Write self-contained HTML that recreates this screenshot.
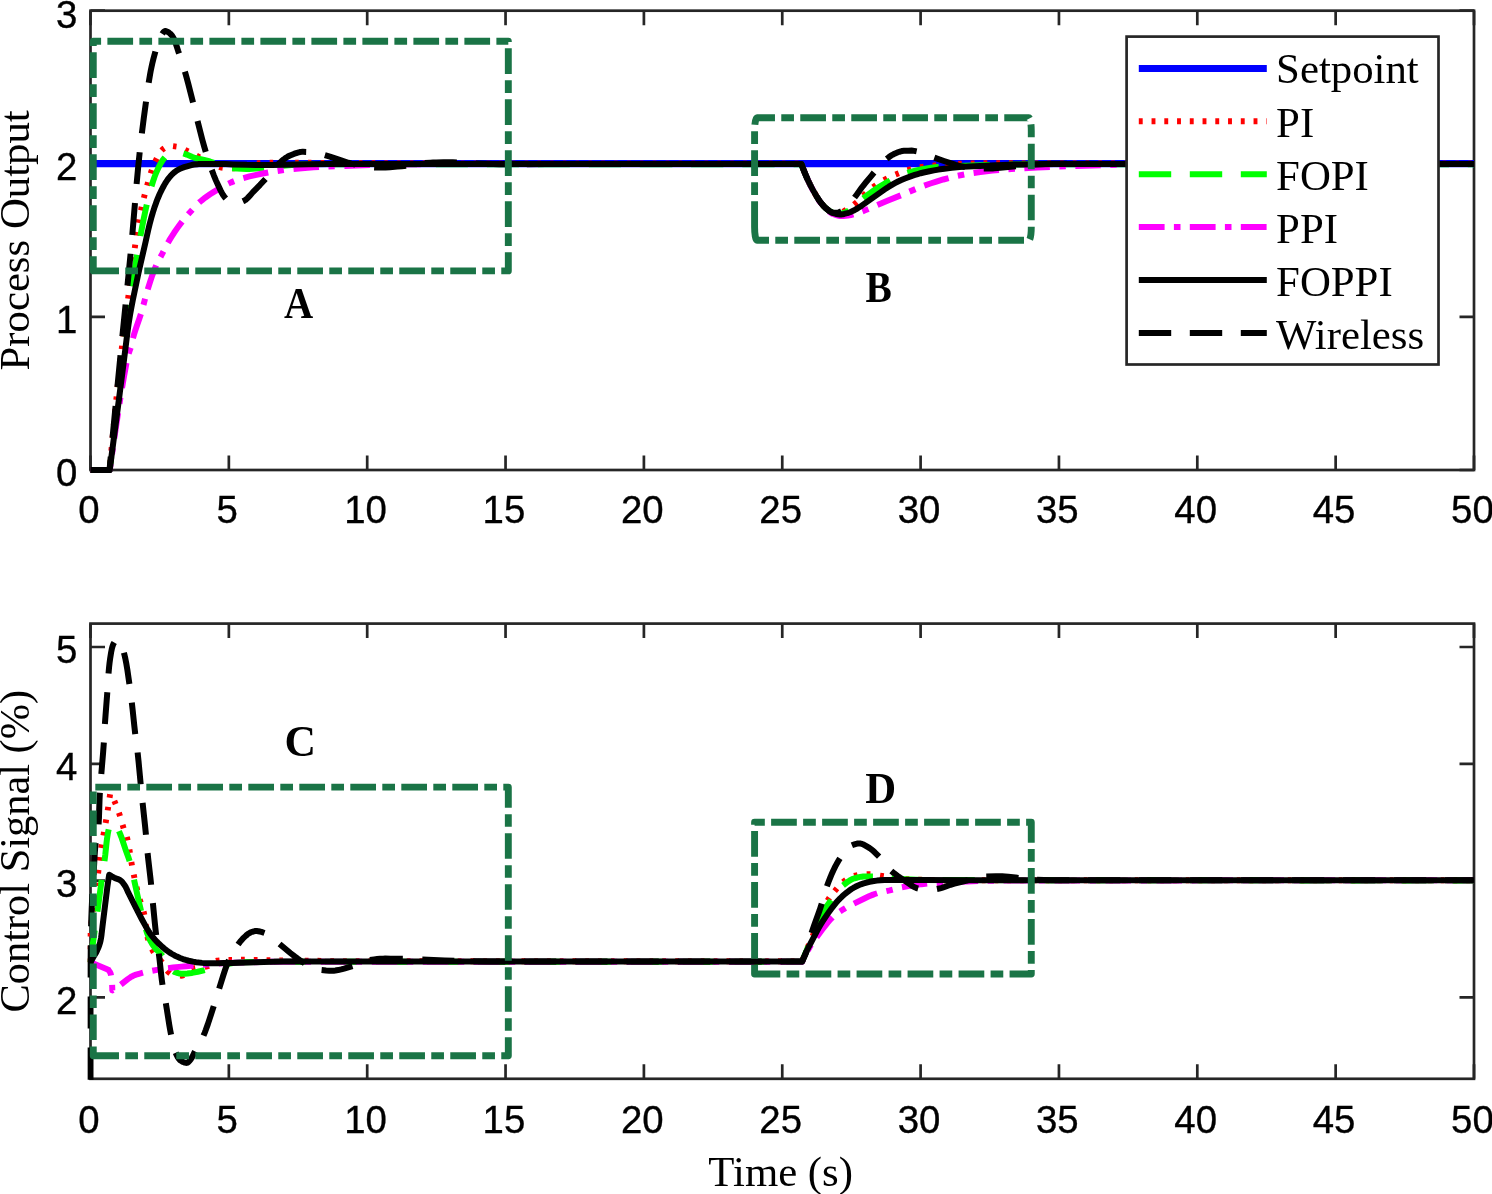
<!DOCTYPE html>
<html lang="en"><head><meta charset="utf-8"><title>Process output and control signal</title>
<style>html,body{margin:0;padding:0;background:#fff}svg{display:block;will-change:transform}</style></head>
<body>
<svg width="1492" height="1194" viewBox="0 0 1492 1194">
<rect width="1492" height="1194" fill="#fff"/>
<rect x="90.5" y="10.7" width="1383.5" height="459.3" fill="none" stroke="#262626" stroke-width="2.7"/>
<path d="M90.50,470.0 v-14.5 M90.50,10.7 v14.5 M228.85,470.0 v-14.5 M228.85,10.7 v14.5 M367.20,470.0 v-14.5 M367.20,10.7 v14.5 M505.55,470.0 v-14.5 M505.55,10.7 v14.5 M643.90,470.0 v-14.5 M643.90,10.7 v14.5 M782.25,470.0 v-14.5 M782.25,10.7 v14.5 M920.60,470.0 v-14.5 M920.60,10.7 v14.5 M1058.95,470.0 v-14.5 M1058.95,10.7 v14.5 M1197.30,470.0 v-14.5 M1197.30,10.7 v14.5 M1335.65,470.0 v-14.5 M1335.65,10.7 v14.5 M1474.00,470.0 v-14.5 M1474.00,10.7 v14.5 M90.5,470.00 h14.5 M1474.0,470.00 h-14.5 M90.5,316.85 h14.5 M1474.0,316.85 h-14.5 M90.5,163.70 h14.5 M1474.0,163.70 h-14.5 M90.5,10.55 h14.5 M1474.0,10.55 h-14.5 " stroke="#262626" stroke-width="2.7" fill="none"/>
<rect x="90.5" y="623.6" width="1383.5" height="455.19999999999993" fill="none" stroke="#262626" stroke-width="2.7"/>
<path d="M90.50,1078.8 v-14.5 M90.50,623.6 v14.5 M228.85,1078.8 v-14.5 M228.85,623.6 v14.5 M367.20,1078.8 v-14.5 M367.20,623.6 v14.5 M505.55,1078.8 v-14.5 M505.55,623.6 v14.5 M643.90,1078.8 v-14.5 M643.90,623.6 v14.5 M782.25,1078.8 v-14.5 M782.25,623.6 v14.5 M920.60,1078.8 v-14.5 M920.60,623.6 v14.5 M1058.95,1078.8 v-14.5 M1058.95,623.6 v14.5 M1197.30,1078.8 v-14.5 M1197.30,623.6 v14.5 M1335.65,1078.8 v-14.5 M1335.65,623.6 v14.5 M1474.00,1078.8 v-14.5 M1474.00,623.6 v14.5 M90.5,997.40 h14.5 M1474.0,997.40 h-14.5 M90.5,880.60 h14.5 M1474.0,880.60 h-14.5 M90.5,763.80 h14.5 M1474.0,763.80 h-14.5 M90.5,647.00 h14.5 M1474.0,647.00 h-14.5 " stroke="#262626" stroke-width="2.7" fill="none"/>
<clipPath id="c1"><rect x="87.3" y="10.7" width="1389.9" height="462.5"/></clipPath>
<g clip-path="url(#c1)">
<line x1="90.5" y1="163.70" x2="1474.0" y2="163.70" stroke="#0000ff" stroke-width="7.2"/>
<path d="M90.50,470.00 L94.25,470.00 M103.50,470.00 L107.00,470.00 M110.19,463.38 L110.50,459.89 M111.35,450.68 L111.67,447.20 M112.54,437.99 L112.87,434.50 M113.76,425.30 L114.10,421.81 M115.00,412.61 L115.35,409.13 M116.27,399.92 L116.63,396.44 M117.57,387.24 L117.93,383.76 M118.90,374.56 L119.27,371.08 M120.27,361.88 L120.66,358.41 M121.70,349.22 L122.11,345.74 M123.21,336.56 L123.63,333.08 M124.79,323.91 L125.23,320.43 M126.41,311.26 L126.87,307.79 M128.07,298.62 L128.52,295.15 M129.73,285.98 L130.19,282.51 M131.43,273.34 L131.90,269.87 M133.14,260.71 L133.60,257.24 M134.78,248.07 L135.23,244.59 M136.49,235.43 L137.02,231.97 M138.56,222.85 L139.19,219.41 M140.97,210.33 L141.70,206.91 M143.85,197.91 L144.73,194.53 M147.12,185.59 L148.04,182.21 M150.68,173.35 L151.81,170.04 M155.24,161.45 L156.80,158.32 M161.63,150.46 L162.49,149.56 L163.45,148.76 L164.28,148.20 M173.04,146.18 L176.51,146.63 M185.12,149.94 L188.29,151.42 M196.52,155.64 L199.62,157.27 M207.81,161.55 L210.97,163.07 M219.33,166.99 L220.04,167.23 L221.50,167.57 L222.74,167.74 M231.97,168.30 L233.47,168.23 L235.45,167.96 M244.44,165.81 L247.88,165.13 M256.96,163.42 L258.70,163.23 L260.45,163.11 M269.69,162.82 L273.19,162.76 M282.44,162.70 L285.94,162.70 M295.19,162.70 L298.69,162.70 M307.94,162.73 L311.44,162.75 M320.69,162.83 L324.19,162.86 M333.44,162.95 L336.94,162.98 M346.19,163.04 L349.69,163.07 M358.94,163.14 L362.44,163.16 M371.68,163.23 L375.18,163.26 M384.43,163.32 L387.93,163.34 M397.18,163.39 L400.68,163.40 M409.93,163.44 L413.43,163.46 M422.68,163.50 L426.18,163.51 M435.43,163.55 L438.93,163.56 M448.18,163.60 L451.68,163.61 M460.93,163.64 L464.43,163.65 M473.68,163.67 L477.18,163.68 M486.43,163.69 L489.93,163.70 M499.18,163.70 L502.68,163.70 M511.92,163.70 L515.42,163.70 M524.67,163.70 L528.17,163.70 M537.42,163.70 L540.92,163.70 M550.17,163.70 L553.67,163.70 M562.92,163.70 L566.42,163.70 M575.67,163.70 L579.17,163.70 M588.42,163.70 L591.92,163.70 M601.17,163.70 L604.92,163.70 M613.92,163.70 L617.67,163.70 M626.92,163.70 L630.67,163.70 M639.92,163.70 L643.42,163.70 M652.67,163.70 L656.42,163.70 M665.67,163.70 L669.42,163.70 M678.66,163.70 L682.16,163.70 M691.41,163.70 L695.16,163.70 M704.41,163.70 L708.16,163.70 M717.41,163.70 L720.91,163.70 M730.16,163.70 L733.91,163.70 M743.16,163.70 L746.91,163.70 M755.91,163.70 L759.66,163.70 M768.91,163.70 L772.66,163.70 M781.91,163.70 L785.41,163.70 M794.66,163.70 L798.41,163.70 M803.51,169.59 L804.89,173.08 M808.61,181.54 L810.15,184.69 M814.53,192.83 L816.40,196.08 M821.66,203.68 L822.78,205.02 L824.12,206.51 M831.33,212.26 L832.22,212.71 L833.39,213.14 L834.61,213.43 M843.18,211.78 L844.21,211.07 L846.32,209.74 M853.94,204.49 L855.70,203.10 L856.84,202.12 M863.19,195.74 L865.94,193.20 M873.00,187.22 L876.03,185.02 M883.87,180.11 L887.17,178.34 M895.57,174.48 L898.83,173.18 M907.55,170.12 L911.17,169.14 M919.97,167.25 L923.67,166.67 M932.60,165.58 L936.34,165.22 M945.31,164.53 L949.05,164.32 M958.04,163.87 L961.79,163.71 M970.78,163.44 L974.53,163.38 M983.53,163.28 L987.28,163.25 M996.28,163.20 L1000.03,163.20 M1009.03,163.24 L1012.78,163.27 M1021.78,163.36 L1025.53,163.40 M1034.53,163.48 L1038.28,163.50 M1047.28,163.51 L1051.03,163.51 M1060.03,163.52 L1063.77,163.53 M1072.77,163.54 L1076.52,163.54 M1085.52,163.55 L1089.27,163.55 M1098.27,163.56 L1102.02,163.56 M1111.02,163.57 L1114.77,163.57 M1123.77,163.58 L1127.52,163.59 M1136.52,163.59 L1140.27,163.60 M1149.27,163.60 L1153.02,163.60 M1162.02,163.61 L1165.77,163.61 M1174.77,163.62 L1178.52,163.62 M1187.52,163.63 L1191.27,163.63 M1200.27,163.64 L1204.02,163.64 M1213.02,163.64 L1216.77,163.64 M1225.77,163.65 L1229.51,163.65 M1238.51,163.65 L1242.26,163.66 M1251.26,163.66 L1255.01,163.66 M1264.01,163.67 L1267.76,163.67 M1276.76,163.67 L1280.51,163.67 M1289.51,163.67 L1293.26,163.68 M1302.26,163.68 L1306.01,163.68 M1315.01,163.68 L1318.76,163.68 M1327.76,163.68 L1331.51,163.69 M1340.51,163.69 L1344.26,163.69 M1353.26,163.69 L1357.01,163.69 M1366.01,163.69 L1369.76,163.69 M1378.76,163.69 L1382.51,163.69 M1391.51,163.70 L1395.25,163.70 M1404.50,163.70 L1408.00,163.70 M1417.25,163.70 L1420.75,163.70 M1430.00,163.70 L1433.50,163.70 M1442.75,163.70 L1446.25,163.70 M1455.50,163.70 L1459.00,163.70 M1468.25,163.70 L1471.75,163.70" fill="none" stroke="#ff0000" stroke-width="5.9" stroke-linejoin="round" stroke-linecap="butt"/>
<path d="M90.50,470.00 L109.50,470.00 L109.71,469.95 L111.23,457.04 M113.48,438.18 L117.27,406.40 M119.52,387.54 L123.35,355.77 M125.63,336.91 L127.45,322.27 L129.66,305.17 M132.20,286.34 L133.49,277.43 L134.61,270.02 L137.09,254.72 M140.41,236.01 L142.12,226.92 L143.81,218.34 L145.40,210.75 L146.76,204.66 M151.48,186.25 L152.98,181.48 L154.44,177.23 L156.06,173.03 L157.67,169.37 L159.89,164.89 L161.37,162.28 L162.31,160.81 L163.17,159.58 L163.94,158.60 L164.94,157.47 M183.42,153.46 L185.32,154.06 L186.73,154.59 L192.50,157.00 L193.90,157.52 L195.33,157.98 L198.23,158.73 L204.10,159.98 L207.02,160.67 L209.90,161.50 L213.91,162.90 M232.10,168.26 L237.34,168.60 L241.84,168.79 L246.33,168.89 L249.33,168.89 L252.33,168.79 L255.33,168.62 L264.05,167.94 M282.92,165.74 L291.39,165.01 L297.37,164.67 L301.87,164.57 L314.87,164.42 M333.87,164.31 L365.87,164.30 M384.87,164.30 L416.86,164.30 M435.86,164.30 L467.86,164.30 M486.86,164.30 L518.86,164.30 M537.86,164.30 L569.85,164.30 M588.85,164.30 L621.10,164.30 M639.85,164.30 L672.35,164.30 M691.09,164.30 L723.34,164.30 M742.34,164.30 L774.59,164.30 M793.59,164.30 L801.34,164.30 L801.46,164.48 L802.96,168.45 L804.07,171.24 L806.42,176.76 L808.94,182.20 L811.18,186.68 M821.03,202.89 L823.09,205.40 L824.10,206.51 L825.15,207.58 L826.85,209.06 L828.63,210.43 L830.08,211.41 L831.38,212.16 L832.52,212.67 L833.47,212.96 L835.68,213.40 L836.92,213.59 L838.41,213.75 L839.91,213.80 L841.39,213.61 L842.84,213.23 L844.48,212.62 L847.22,211.39 L848.74,210.53 M863.25,198.28 L866.00,196.12 L869.41,193.58 L873.08,190.98 L875.98,189.02 L879.33,186.84 L883.16,184.48 L887.05,182.21 L890.10,180.50 M907.46,172.85 L910.58,171.94 L913.48,171.17 L917.61,170.19 L920.79,169.53 L926.69,168.45 L931.13,167.73 L935.60,167.15 L938.83,166.85 M957.81,165.89 L971.80,165.42 L989.79,164.97 M1008.78,164.62 L1028.78,164.36 L1040.78,164.30 M1059.78,164.30 L1092.03,164.30 M1110.78,164.30 L1143.02,164.30 M1161.77,164.30 L1194.02,164.30 M1212.77,164.30 L1245.02,164.30 M1263.76,164.30 L1296.01,164.30 M1314.76,164.30 L1347.01,164.30 M1365.76,164.30 L1398.01,164.30 M1416.75,164.30 L1449.00,164.30 M1467.75,164.30 L1474.00,164.30" fill="none" stroke="#00ff00" stroke-width="6.0" stroke-linejoin="round" stroke-linecap="butt"/>
<path d="M90.50,470.00 L109.75,470.00 L109.83,469.80 L110.69,463.61 M112.02,454.21 L112.91,448.02 M114.31,438.37 L118.03,413.15 M119.47,403.76 L120.45,397.58 M122.04,387.96 L123.61,378.85 L126.48,362.86 M128.67,353.62 L129.69,350.53 L130.72,347.71 M132.97,338.23 L134.05,334.38 L135.01,331.27 L136.36,327.24 L139.39,318.50 L140.87,313.99 M143.48,304.86 L145.08,298.82 M147.72,289.43 L150.34,281.08 L152.25,275.40 L154.33,269.77 L156.14,265.38 M160.52,256.95 L162.32,253.66 L163.46,251.44 M167.91,242.76 L169.28,240.38 L170.97,237.60 L174.22,232.56 L177.64,227.63 L179.55,225.00 L182.10,221.60 M188.18,214.31 L192.35,209.65 M199.09,202.61 L200.40,201.46 L202.73,199.56 L205.11,197.74 L207.55,195.99 L210.03,194.31 L213.82,191.87 L220.03,188.14 M228.40,183.64 L231.12,182.38 L234.13,181.15 M243.37,178.05 L249.41,176.45 L255.25,175.08 L261.36,173.79 L268.24,172.48 M277.61,170.93 L283.81,170.10 M293.50,169.07 L307.69,167.82 L313.68,167.37 L318.92,167.04 M328.41,166.59 L334.65,166.33 M344.39,165.90 L355.88,165.43 L369.87,165.02 M379.37,164.78 L385.62,164.64 M395.37,164.46 L420.86,164.17 M430.36,164.09 L436.61,164.04 M446.36,164.01 L471.86,163.99 M481.36,163.98 L487.61,163.98 M497.36,163.97 L522.86,163.96 M532.36,163.95 L538.61,163.95 M548.36,163.94 L573.86,163.93 M583.36,163.93 L589.61,163.93 M599.36,163.93 L625.11,163.92 M634.60,163.92 L641.10,163.91 M650.85,163.91 L676.60,163.91 M686.10,163.91 L692.60,163.91 M702.35,163.90 L728.10,163.90 M737.60,163.90 L744.10,163.90 M753.85,163.90 L779.60,163.90 M789.10,163.90 L795.60,163.90 M802.74,167.61 L805.12,173.66 L807.60,179.40 L810.17,184.82 L811.53,187.49 L813.41,191.03 M818.17,199.24 L819.85,201.72 L821.96,204.52 M828.85,211.38 L830.26,212.41 L831.53,213.21 L833.09,214.00 L835.68,214.94 L837.11,215.38 L838.81,215.78 L840.05,215.95 L841.05,216.00 L843.30,215.93 L848.03,215.50 L849.26,215.32 L850.73,215.01 L853.38,214.28 M862.41,211.33 L866.37,209.80 L868.45,208.94 M877.38,205.02 L887.96,200.52 L900.72,195.40 M909.44,191.63 L915.44,189.12 M924.27,185.64 L930.41,183.49 L936.36,181.57 L943.30,179.48 L948.61,178.04 M957.84,175.81 L964.22,174.56 M973.59,173.02 L980.28,172.08 L986.47,171.28 L992.43,170.59 L998.90,169.95 M1008.37,169.18 L1014.86,168.75 M1024.34,168.21 L1037.32,167.53 L1049.81,166.95 M1059.30,166.55 L1065.79,166.30 M1075.29,165.95 L1100.77,165.16 M1110.27,164.90 L1116.77,164.76 M1126.27,164.60 L1151.76,164.30 M1161.26,164.20 L1167.76,164.15 M1177.26,164.08 L1202.76,164.00 M1212.26,163.99 L1218.76,163.98 M1228.26,163.98 L1253.76,163.96 M1263.26,163.95 L1269.76,163.95 M1279.26,163.95 L1304.76,163.93 M1314.26,163.93 L1320.76,163.93 M1330.26,163.92 L1355.75,163.92 M1365.25,163.91 L1371.75,163.91 M1381.25,163.91 L1406.75,163.90 M1416.25,163.90 L1422.75,163.90 M1432.25,163.90 L1457.75,163.90 M1467.25,163.90 L1473.75,163.90" fill="none" stroke="#ff00ff" stroke-width="6.0" stroke-linejoin="round" stroke-linecap="butt"/>
<path d="M90.50,470.00 L109.70,470.00 L119.63,394.00 L124.23,358.23 L127.37,332.87 L128.60,323.94 L130.01,315.04 L131.34,307.65 L132.78,300.27 L137.69,276.73 L139.95,266.45 L145.65,241.55 L148.25,229.81 L149.66,223.97 L151.21,218.15 L152.89,212.38 L154.25,208.08 L156.23,202.40 L157.86,198.20 L159.65,194.06 L161.90,189.40 L163.68,185.99 L165.18,183.38 L165.97,182.11 L167.66,179.63 L168.57,178.42 L170.30,176.30 L171.49,174.98 L172.54,173.90 L174.10,172.50 L176.03,171.05 L177.30,170.23 L178.40,169.60 L179.94,168.84 L181.33,168.24 L184.14,167.17 L187.01,166.27 L191.37,165.08 L192.84,164.76 L194.31,164.54 L197.30,164.18 L198.80,164.06 L203.31,163.95 L209.32,163.90 L221.34,163.91 L225.85,164.05 L233.36,164.38 L246.88,164.85 L255.89,164.96 L264.91,165.00 L272.42,164.93 L308.48,164.32 L328.02,164.07 L338.54,164.00 L801.40,164.00 L803.49,169.66 L805.77,175.23 L808.22,180.72 L810.20,184.79 L813.01,190.12 L815.22,194.06 L816.76,196.67 L818.37,199.22 L819.22,200.46 L821.01,202.85 L822.94,205.21 L823.96,206.34 L825.02,207.42 L826.11,208.44 L828.44,210.31 L829.70,211.21 L831.01,212.04 L832.35,212.73 L833.60,213.20 L835.14,213.65 L836.62,214.02 L838.13,214.32 L839.63,214.48 L840.30,214.50 L841.12,214.47 L842.61,214.28 L844.10,213.97 L847.02,213.19 L848.45,212.76 L849.87,212.23 L851.27,211.64 L853.70,210.50 L855.32,209.66 L857.91,208.11 L861.70,205.64 L885.07,189.14 L887.20,187.70 L888.84,186.66 L892.72,184.36 L895.36,182.91 L898.04,181.52 L900.76,180.23 L904.93,178.51 L911.99,175.88 L914.84,174.93 L917.72,174.04 L920.62,173.22 L923.54,172.49 L929.42,171.20 L933.86,170.36 L938.31,169.59 L944.27,168.74 L951.74,167.86 L962.24,166.87 L968.24,166.47 L980.28,165.99 L995.31,165.19 L1002.83,164.91 L1013.36,164.62 L1023.90,164.40 L1041.96,164.13 L1054.00,164.02 L1474.00,164.00" fill="none" stroke="#000" stroke-width="6.0" stroke-linejoin="round" stroke-linecap="butt"/>
<path d="M90.50,470.00 L109.50,470.00 L110.74,456.81 M112.53,437.90 L115.57,406.05 M117.39,387.14 L120.48,355.29 M122.35,336.38 L125.57,304.55 M127.48,285.65 L130.58,253.80 M132.29,234.88 L134.98,203.00 M136.61,184.07 L138.13,167.64 L139.69,152.22 M141.85,133.35 L143.75,118.47 L146.02,101.62 M148.67,82.81 L150.14,73.93 L150.74,70.74 L151.60,66.58 L152.31,63.40 L153.37,59.03 L155.39,51.55 M162.20,33.89 L162.74,33.05 L163.69,31.89 L164.71,31.16 L165.44,31.00 L165.68,31.03 L167.10,31.50 L168.60,32.41 L169.98,33.49 L171.07,34.52 L171.40,34.89 L171.87,35.47 L172.58,36.50 L173.35,37.79 L174.02,39.13 L174.62,40.50 L175.77,43.54 L178.15,50.92 L179.06,53.51 M184.90,71.59 L186.40,76.88 L188.29,83.88 L193.03,102.53 M197.55,120.98 L202.24,139.39 L204.22,146.63 L205.75,151.91 M211.78,169.92 L213.82,175.30 L216.00,180.62 L217.33,183.58 L220.54,190.36 L222.04,193.24 L223.47,195.59 L224.49,197.01 L225.81,198.51 M242.87,201.33 L244.23,200.70 L245.28,200.04 L246.47,199.11 L247.57,198.10 L249.62,195.91 L252.91,192.14 L260.06,184.80 L265.51,178.94 M277.86,164.53 L281.57,161.18 L283.69,159.43 L284.88,158.52 L286.31,157.51 L287.59,156.72 L288.91,156.01 L290.04,155.48 L294.44,153.69 L297.04,152.80 L298.73,152.34 L300.20,152.05 L301.69,151.86 L303.19,151.80 L306.18,151.90 M324.85,155.15 L329.88,156.64 L338.18,159.41 L348.40,162.73 L351.27,163.59 L355.39,164.64 M374.16,167.38 L376.41,167.51 L379.41,167.60 L382.41,167.57 L385.40,167.45 L389.89,167.17 L397.37,166.62 L401.85,166.20 L406.08,165.73 M424.88,163.09 L430.36,162.62 L433.11,162.46 L436.11,162.38 L443.60,162.24 L449.85,162.20 L452.85,162.24 L456.85,162.38 M475.82,163.40 L484.31,163.77 L493.30,164.08 L499.30,164.19 L507.80,164.26 M526.80,164.26 L545.80,164.02 L559.04,164.00 M577.79,164.00 L610.04,164.00 M629.29,164.00 L662.03,164.00 M681.03,164.00 L713.78,164.00 M733.03,164.00 L765.77,164.00 M785.02,164.00 L801.27,164.00 L801.44,164.11 L802.72,167.64 L804.17,171.37 L805.70,175.06 L807.41,178.95 M816.35,195.99 L817.93,198.54 L819.62,201.01 L821.59,203.60 L823.51,205.90 L825.07,207.52 L826.37,208.69 L828.94,210.68 L830.37,211.68 L831.70,212.38 L832.41,212.62 L832.90,212.73 L833.64,212.80 L835.89,212.76 L837.64,212.63 L838.62,212.45 L840.00,211.87 L841.36,211.23 M854.54,197.53 L856.49,194.93 L860.87,188.84 L862.97,186.04 L865.46,182.92 L871.39,175.81 L874.06,172.51 M886.74,158.79 L888.73,157.28 L891.19,155.57 L892.46,154.78 L893.78,154.06 L895.15,153.44 L897.92,152.30 L899.33,151.79 L900.76,151.35 L902.23,151.01 L903.96,150.80 L908.21,150.65 L911.96,150.60 L912.71,150.64 L914.19,150.86 L916.64,151.37 M934.32,157.55 L943.98,160.99 L952.75,163.91 L955.61,164.82 L958.50,165.63 L959.96,165.98 L965.10,167.02 M983.75,168.46 L990.00,168.50 L992.75,168.43 L994.50,168.32 L997.49,168.07 L1015.89,166.20 M1034.56,164.50 L1039.30,164.23 L1051.30,163.82 L1057.54,163.71 L1066.79,163.72 M1085.54,163.86 L1098.04,164.00 L1117.79,164.00 M1136.53,164.00 L1168.78,164.00 M1187.53,164.00 L1219.78,164.00 M1238.52,164.00 L1270.77,164.00 M1289.52,164.00 L1321.77,164.00 M1340.51,164.00 L1372.76,164.00 M1391.51,164.00 L1423.76,164.00 M1442.50,164.00 L1474.00,164.00" fill="none" stroke="#000" stroke-width="6.0" stroke-linejoin="round" stroke-linecap="butt"/>
</g>
<clipPath id="c2"><rect x="87.3" y="623.6" width="1389.9" height="456.5999999999999"/></clipPath>
<g clip-path="url(#c2)">
<path d="M90.50,962.30 L90.50,958.55 M90.50,949.30 L90.50,945.80 M90.50,936.55 L90.50,933.05 M91.21,923.86 L91.73,920.40 M93.07,911.25 L93.57,907.78 M94.86,898.62 L95.33,895.16 M96.56,885.99 L97.01,882.52 M98.10,873.33 L98.50,869.86 M99.55,860.67 L99.97,857.19 M101.19,848.03 L101.72,844.57 M103.34,835.46 L103.99,832.02 M105.66,822.92 L106.23,819.47 M107.70,810.34 L108.23,806.88 M109.60,797.73 L110.09,794.27 M114.34,800.86 L115.69,804.09 M118.94,812.75 L120.04,816.07 M122.59,824.97 L123.63,828.30 M126.80,836.99 L127.22,838.43 L127.70,840.37 M129.41,849.46 L129.94,852.92 M131.35,862.06 L131.97,865.51 M133.75,874.58 L134.47,878.01 M136.50,887.03 L137.32,890.43 M139.69,899.37 L140.77,902.70 M143.58,911.51 L143.99,913.21 L144.34,914.92 M145.70,924.07 L146.12,927.55 M147.49,936.69 L147.84,938.40 L148.26,940.10 M151.91,949.12 L153.11,951.32 L153.77,952.38 M159.87,959.64 L161.33,961.36 L162.24,962.55 M167.14,970.68 L167.96,971.62 L168.52,972.12 L170.14,973.29 M179.93,975.66 L181.93,975.69 L183.15,975.42 L183.83,975.11 M191.53,969.18 L192.18,968.82 L193.35,968.39 L195.31,968.00 M204.74,966.85 L206.95,966.43 L208.14,966.05 L208.59,965.82 M216.11,960.93 L217.31,960.57 L219.55,960.37 M228.54,960.02 L232.04,959.94 M241.03,959.81 L244.78,959.80 M253.78,959.87 L257.53,959.92 M266.53,960.15 L270.28,960.22 M279.28,960.36 L283.02,960.41 M292.02,960.51 L295.77,960.55 M304.77,960.66 L308.52,960.70 M317.52,960.82 L321.27,960.87 M330.27,960.97 L334.02,961.01 M343.01,961.08 L346.76,961.09 M355.76,961.11 L359.51,961.11 M368.51,961.12 L372.26,961.12 M381.26,961.13 L385.01,961.14 M394.01,961.15 L397.76,961.15 M406.76,961.16 L410.51,961.16 M419.51,961.17 L423.26,961.17 M432.26,961.18 L436.01,961.18 M445.00,961.19 L448.75,961.19 M457.75,961.20 L461.50,961.20 M470.50,961.21 L474.25,961.21 M483.25,961.22 L487.00,961.22 M496.00,961.22 L499.75,961.23 M508.75,961.23 L512.50,961.23 M521.50,961.24 L525.25,961.24 M534.25,961.25 L537.99,961.25 M546.99,961.25 L550.74,961.25 M559.74,961.26 L563.49,961.26 M572.49,961.26 L576.24,961.26 M585.24,961.27 L588.99,961.27 M597.99,961.27 L601.74,961.27 M610.99,961.28 L614.49,961.28 M623.74,961.28 L627.49,961.28 M636.49,961.28 L640.23,961.28 M649.48,961.29 L653.23,961.29 M662.23,961.29 L665.98,961.29 M675.23,961.29 L678.73,961.29 M687.98,961.29 L691.73,961.29 M700.73,961.29 L704.48,961.29 M713.73,961.30 L717.48,961.30 M726.48,961.30 L730.23,961.30 M739.47,961.30 L742.97,961.30 M752.22,961.30 L755.97,961.30 M765.22,961.30 L768.72,961.30 M777.97,961.30 L781.72,961.30 M790.72,961.30 L794.47,961.30 M802.68,959.79 L803.96,956.53 M807.45,947.97 L808.95,944.53 M812.67,936.06 L813.95,932.81 M816.93,924.05 L818.12,920.50 M821.45,912.14 L823.05,908.75 M827.51,900.65 L829.45,897.74 M834.70,891.06 L836.96,888.38 M842.98,882.05 L844.18,881.16 L845.83,880.03 M854.07,875.91 L855.28,875.59 L857.49,875.18 M866.67,874.14 L868.42,874.10 L870.42,874.18 M880.04,875.70 L883.75,876.27 M892.66,877.52 L896.39,877.95 M905.34,878.86 L909.08,879.14 M918.06,879.62 L921.81,879.77 M930.81,880.01 L934.56,880.07 M943.55,880.20 L947.30,880.24 M956.30,880.29 L960.05,880.30 M969.05,880.30 L972.80,880.30 M981.80,880.30 L985.55,880.30 M994.55,880.30 L998.30,880.30 M1007.30,880.30 L1011.05,880.30 M1020.05,880.30 L1023.80,880.30 M1032.79,880.30 L1036.54,880.30 M1045.54,880.30 L1049.29,880.30 M1058.29,880.30 L1062.04,880.30 M1071.04,880.30 L1074.79,880.30 M1083.79,880.30 L1087.54,880.30 M1096.54,880.30 L1100.29,880.30 M1109.29,880.30 L1113.04,880.30 M1122.04,880.30 L1125.79,880.30 M1134.78,880.30 L1138.53,880.30 M1147.53,880.30 L1151.28,880.30 M1160.28,880.30 L1164.03,880.30 M1173.03,880.30 L1176.78,880.30 M1185.78,880.30 L1189.53,880.30 M1198.53,880.30 L1202.28,880.30 M1211.28,880.30 L1215.03,880.30 M1224.03,880.30 L1227.77,880.30 M1236.77,880.30 L1240.52,880.30 M1249.52,880.30 L1253.27,880.30 M1262.27,880.30 L1266.02,880.30 M1275.02,880.30 L1278.77,880.30 M1287.77,880.30 L1291.52,880.30 M1300.52,880.30 L1304.27,880.30 M1313.27,880.30 L1317.02,880.30 M1326.01,880.30 L1329.76,880.30 M1338.76,880.30 L1342.51,880.30 M1351.51,880.30 L1355.26,880.30 M1364.26,880.30 L1368.01,880.30 M1377.01,880.30 L1380.76,880.30 M1389.76,880.30 L1393.51,880.30 M1402.51,880.30 L1406.26,880.30 M1415.26,880.30 L1419.01,880.30 M1428.00,880.30 L1431.75,880.30 M1440.75,880.30 L1444.50,880.30 M1453.50,880.30 L1457.25,880.30 M1466.25,880.30 L1470.00,880.30" fill="none" stroke="#ff0000" stroke-width="5.9" stroke-linejoin="round" stroke-linecap="butt"/>
<path d="M90.50,962.30 L92.77,944.45 L94.72,930.33 M97.44,911.53 L101.66,879.81 M104.47,861.02 L105.23,855.07 L106.48,843.14 L107.03,838.67 L107.75,833.98 L108.26,831.27 L108.70,829.32 M118.96,831.06 L120.13,833.82 L121.28,836.86 L122.27,839.69 L125.50,849.42 L128.67,858.11 L129.62,861.21 M134.03,879.69 L138.63,900.69 L139.93,906.29 L141.08,910.90 M145.88,929.28 L147.46,934.02 L148.81,937.52 L149.63,939.34 L150.31,940.68 L151.92,943.50 L153.56,946.01 L155.34,948.43 L156.33,949.56 L157.21,950.44 L160.64,953.72 L161.66,954.83 L162.58,956.01 M173.58,971.35 L174.20,971.77 L175.11,972.18 L176.77,972.74 L178.46,973.20 L179.93,973.50 L181.41,973.71 L182.91,973.80 L184.41,973.76 L187.40,973.48 L191.61,972.92 L193.34,972.64 L197.75,971.76 L204.80,970.09 M223.08,964.91 L225.03,964.49 L231.42,963.28 L234.13,962.84 L237.11,962.48 L240.10,962.30 L254.85,961.99 M273.85,961.81 L305.84,961.80 M324.84,961.80 L356.84,961.80 M375.84,961.80 L407.84,961.80 M426.83,961.80 L458.83,961.80 M477.83,961.80 L509.83,961.80 M528.83,961.80 L560.82,961.80 M579.82,961.80 L612.07,961.80 M631.07,961.80 L663.82,961.80 M682.82,961.80 L715.56,961.80 M734.56,961.80 L767.06,961.80 M786.31,961.80 L802.06,961.80 L802.17,961.61 L804.23,956.24 L805.93,952.07 L807.10,949.31 L808.45,946.35 M815.94,928.65 L817.91,922.72 L818.95,919.90 L820.13,917.15 L821.37,914.69 L822.98,911.87 L824.59,909.34 L827.13,905.63 L831.06,900.13 M843.04,885.46 L846.36,882.81 L847.78,881.78 L849.02,880.95 L850.31,880.17 L851.85,879.35 L853.22,878.74 L854.63,878.24 L857.29,877.53 L859.00,877.14 L861.70,876.65 L863.19,876.48 L864.94,876.40 L872.94,876.41 M891.59,878.23 L897.82,878.76 L905.31,879.18 L915.80,879.68 L923.79,879.92 M942.54,880.02 L974.79,880.08 M993.54,880.12 L1025.78,880.16 M1044.53,880.19 L1076.78,880.23 M1095.53,880.25 L1127.78,880.28 M1146.52,880.30 L1178.77,880.32 M1197.52,880.33 L1229.77,880.35 M1248.52,880.36 L1280.76,880.37 M1299.51,880.38 L1331.76,880.39 M1350.51,880.39 L1382.76,880.40 M1401.51,880.40 L1433.75,880.40 M1452.50,880.40 L1474.00,880.40" fill="none" stroke="#00ff00" stroke-width="6.0" stroke-linejoin="round" stroke-linecap="butt"/>
<path d="M90.50,962.30 L108.25,969.74 L108.45,969.87 L109.44,971.32 L110.32,972.83 L110.61,973.52 L110.75,974.00 L111.03,975.47 M112.13,984.90 L112.26,987.90 L112.30,990.40 L112.42,990.42 L112.83,990.13 M120.82,984.55 L122.22,983.50 L128.12,978.87 L130.60,977.18 L131.90,976.43 L133.70,975.56 L136.03,974.68 L138.90,973.80 L143.01,972.72 M152.30,970.72 L158.45,969.61 M168.09,968.16 L173.05,967.55 L179.01,966.89 L186.22,966.16 L193.44,965.49 M202.90,964.68 L209.13,964.20 M218.86,963.56 L232.84,962.77 L237.58,962.57 L244.33,962.38 M253.82,962.15 L260.07,962.01 M269.82,961.86 L278.07,961.80 L295.31,961.80 M304.81,961.80 L311.06,961.80 M320.81,961.80 L346.31,961.80 M355.80,961.80 L362.05,961.80 M371.80,961.80 L397.30,961.80 M406.80,961.80 L413.30,961.80 M422.79,961.80 L448.29,961.80 M457.79,961.80 L464.29,961.80 M473.79,961.80 L499.28,961.80 M508.78,961.80 L515.28,961.80 M524.78,961.80 L550.27,961.80 M559.77,961.80 L566.27,961.80 M575.77,961.80 L601.27,961.80 M610.76,961.80 L617.26,961.80 M626.76,961.80 L652.26,961.80 M661.76,961.80 L668.26,961.80 M677.75,961.80 L703.25,961.80 M712.75,961.80 L719.25,961.80 M728.75,961.80 L754.24,961.80 M763.74,961.80 L770.24,961.80 M779.74,961.80 L801.99,961.80 L802.16,961.68 L803.42,958.96 M807.77,950.51 L809.62,947.25 L811.06,944.91 M816.62,937.21 L821.94,929.96 L827.49,922.87 L829.40,920.56 L830.39,919.44 L832.49,917.29 M839.98,911.47 L843.35,909.32 L845.50,908.04 M853.93,903.67 L864.91,898.24 L868.99,896.34 L873.14,894.61 L874.78,894.01 L877.16,893.23 M886.40,891.06 L889.82,890.32 L892.73,889.59 M901.94,887.27 L908.33,886.10 L915.74,884.92 L921.69,884.14 L927.16,883.63 M936.65,883.12 L940.89,882.90 L943.13,882.74 M952.61,882.11 L966.84,881.44 L978.08,881.01 M987.58,880.75 L994.07,880.64 M1003.57,880.59 L1029.07,880.55 M1038.82,880.54 L1045.07,880.53 M1054.57,880.52 L1080.06,880.48 M1089.81,880.47 L1096.06,880.47 M1105.56,880.46 L1131.05,880.43 M1140.80,880.42 L1147.05,880.41 M1156.55,880.41 L1182.05,880.39 M1191.79,880.38 L1198.04,880.37 M1207.54,880.37 L1233.04,880.35 M1242.79,880.35 L1249.03,880.34 M1258.53,880.34 L1284.03,880.33 M1293.78,880.33 L1300.03,880.32 M1309.53,880.32 L1335.27,880.31 M1344.77,880.31 L1351.02,880.31 M1360.52,880.31 L1386.26,880.30 M1395.76,880.30 L1402.01,880.30 M1411.51,880.30 L1437.26,880.30 M1446.75,880.30 L1453.00,880.30 M1462.50,880.30 L1474.00,880.30" fill="none" stroke="#ff00ff" stroke-width="6.0" stroke-linejoin="round" stroke-linecap="butt"/>
<path d="M90.50,962.30 L93.27,957.30 L96.21,952.38 L97.06,950.69 L98.18,948.07 L99.22,945.38 L100.09,942.64 L100.54,940.80 L101.05,938.02 L101.58,934.25 L102.46,926.65 L107.24,887.89 L108.03,882.23 L109.20,874.70 L111.73,876.35 L114.20,877.70 L115.78,878.36 L118.68,879.41 L119.97,880.05 L121.09,880.89 L122.15,881.94 L123.13,883.14 L124.05,884.42 L125.66,886.97 L126.35,888.30 L128.23,892.43 L128.89,893.79 L135.61,907.24 L139.04,913.94 L141.84,919.26 L145.47,925.86 L146.95,928.49 L148.50,931.07 L150.10,933.50 L151.02,934.78 L152.88,937.15 L154.84,939.45 L156.87,941.67 L158.97,943.81 L162.30,946.88 L164.60,948.81 L166.98,950.66 L169.44,952.40 L171.98,953.99 L174.61,955.47 L176.90,956.60 L180.07,958.00 L182.89,959.06 L185.75,959.96 L188.67,960.73 L193.08,961.66 L196.05,962.17 L199.03,962.56 L202.02,962.87 L206.53,963.17 L210.40,963.30 L218.56,963.28 L223.80,963.10 L232.09,962.95 L256.14,962.13 L263.66,961.93 L283.21,961.62 L296.74,961.51 L802.10,961.50 L803.85,957.34 L805.06,954.58 L806.80,950.80 L808.26,947.79 L810.31,943.77 L816.60,931.77 L818.76,927.81 L820.26,925.20 L822.63,921.37 L825.12,917.60 L828.53,912.64 L831.16,908.97 L833.60,905.80 L835.83,903.08 L837.82,900.81 L839.88,898.62 L842.03,896.53 L844.28,894.52 L846.60,892.61 L849.00,890.79 L851.48,889.06 L853.70,887.70 L855.36,886.79 L858.08,885.47 L860.85,884.33 L863.70,883.36 L866.60,882.53 L869.52,881.81 L872.47,881.21 L873.96,880.98 L876.94,880.61 L880.50,880.30 L884.44,880.07 L887.20,880.00 L923.55,880.01 L979.19,880.20 L1474.00,880.20" fill="none" stroke="#000" stroke-width="6.0" stroke-linejoin="round" stroke-linecap="butt"/>
<path d="M90.50,1079.80 L90.50,1047.55 M90.50,1028.55 L90.50,996.56 M90.50,977.56 L90.51,958.06 L90.68,945.31 M91.09,926.32 L91.35,917.57 L91.69,908.58 L92.02,901.09 L92.40,894.10 M93.55,875.14 L94.68,854.67 L95.12,848.44 L95.61,842.96 M98.60,824.46 L98.98,817.22 L99.55,799.48 L99.86,792.74 M101.31,774.05 L103.07,752.88 L103.85,742.41 M104.91,723.94 L105.52,715.46 L107.31,692.28 M108.52,673.57 L109.05,667.60 L109.56,662.88 L110.13,658.66 L111.14,652.24 L111.78,649.06 L112.14,647.60 L112.56,646.16 L113.07,644.75 L113.59,643.62 L114.25,642.55 M123.90,652.70 L124.59,655.36 L125.27,658.29 L126.42,664.17 L127.39,670.09 L129.40,683.95 M131.82,702.54 L132.55,709.00 L134.40,726.65 L135.24,734.10 M137.62,752.44 L138.52,761.15 L140.70,784.29 M142.60,802.94 L145.01,825.31 L145.96,834.76 M147.61,853.19 L148.32,859.90 L150.38,877.53 L151.15,884.74 M152.89,903.15 L154.78,922.56 L155.55,929.77 L156.16,934.98 M158.83,953.54 L159.57,959.74 L161.35,976.14 L161.90,980.61 L162.48,984.82 M165.83,1003.27 L166.73,1008.69 L169.29,1024.99 L170.11,1029.67 L171.06,1034.58 M175.69,1052.72 L176.88,1055.47 L177.69,1057.02 L178.63,1058.50 L179.58,1059.66 L180.50,1060.50 L181.77,1061.30 L183.11,1061.97 L184.75,1062.57 L185.97,1062.84 L186.47,1062.89 L187.20,1062.77 L187.43,1062.68 L188.47,1061.98 L189.67,1060.72 L190.90,1059.14 L191.61,1058.11 L192.34,1056.80 L194.28,1052.74 L194.98,1051.42 M203.51,1035.58 L204.67,1032.81 L205.76,1030.01 L207.78,1024.37 L209.68,1018.67 L213.73,1006.06 M219.15,988.64 L223.24,975.51 L225.11,969.81 L226.11,966.98 L227.09,964.41 L228.92,960.03 M238.02,944.53 L239.67,942.33 L240.76,940.97 L242.76,938.73 L243.82,937.67 L246.01,935.62 L247.14,934.64 L248.33,933.73 L249.60,932.92 L250.95,932.28 L252.36,931.77 L253.80,931.33 L255.27,931.06 L256.02,931.00 L256.77,931.02 L258.26,931.19 L259.97,931.55 L261.42,931.95 L264.49,933.00 M279.55,944.04 L290.33,952.98 L295.03,956.70 L297.44,958.50 L299.89,960.23 L302.38,961.90 L304.52,963.20 M321.60,970.01 L326.08,970.44 L329.32,970.64 L332.32,970.69 L333.82,970.64 L335.31,970.50 L338.03,970.09 L341.20,969.38 L344.09,968.59 L352.47,966.07 M369.90,959.99 L374.11,959.40 L377.09,959.06 L380.07,958.79 L383.07,958.63 L385.07,958.60 L390.57,958.63 L402.82,958.80 M422.30,959.51 L444.78,960.39 L454.28,960.72 M473.27,961.16 L489.76,961.44 L505.26,961.50 M524.26,961.50 L556.26,961.50 M575.26,961.50 L607.50,961.50 M626.50,961.50 L658.75,961.50 M677.75,961.50 L710.24,961.50 M729.24,961.50 L761.74,961.50 M780.74,961.50 L801.98,961.50 L802.16,961.38 L804.10,957.32 L805.30,954.57 L806.55,951.30 M811.57,932.99 L812.47,930.13 L813.93,925.87 L819.57,910.37 L820.84,906.57 L821.73,903.71 M826.93,886.22 L828.58,881.77 L830.23,877.58 L831.48,874.58 L833.32,870.48 L835.30,866.44 L836.71,863.79 L838.21,861.19 L839.94,858.44 M851.90,845.31 L853.29,844.74 L854.46,844.31 L856.14,843.82 L857.61,843.52 L859.10,843.40 L860.59,843.56 L862.04,843.96 L863.43,844.53 L864.98,845.33 L868.86,847.62 L870.11,848.44 L871.32,849.33 L872.48,850.28 L874.70,852.29 L879.12,856.72 M891.32,870.92 L893.97,873.21 L897.55,875.94 L900.21,877.81 L906.24,881.84 L911.37,885.40 L912.65,886.18 L913.96,886.91 L915.31,887.56 L916.71,888.09 L918.15,888.50 M936.94,888.98 L939.15,888.55 L941.80,887.84 L944.65,886.90 L950.53,884.78 L951.96,884.31 L954.35,883.59 L960.64,881.97 L967.94,880.24 M986.27,876.56 L996.01,876.32 L1000.01,876.30 L1002.26,876.35 L1005.01,876.50 L1008.25,876.78 L1015.45,877.55 L1018.42,877.96 M1037.04,879.84 L1044.04,880.02 L1051.54,880.15 L1069.29,880.20 M1088.04,880.20 L1120.28,880.20 M1139.03,880.20 L1171.28,880.20 M1190.03,880.20 L1222.27,880.20 M1241.02,880.20 L1273.27,880.20 M1292.02,880.20 L1324.26,880.20 M1343.01,880.20 L1375.26,880.20 M1394.01,880.20 L1426.25,880.20 M1445.00,880.20 L1474.00,880.20" fill="none" stroke="#000" stroke-width="6.0" stroke-linejoin="round" stroke-linecap="butt"/>
</g>
<path d="M93.27,270.90 H508.32 V41.18 H93.27 Z" fill="none" stroke="#1a7446" stroke-width="6.9" stroke-dasharray="25.7 6.3 12.7 6.3" stroke-linejoin="round"/>
<path d="M754.58,227.07 A2.4,13.2 0 0 0 756.98,240.27 H1028.88 A2.4,13.2 0 0 0 1031.28,227.07 V130.95 A2.4,13.2 0 0 0 1028.88,117.75 H756.98 A2.4,13.2 0 0 0 754.58,130.95 Z" fill="none" stroke="#1a7446" stroke-width="6.9" stroke-dasharray="25.7 6.3 12.7 6.3" stroke-linejoin="round"/>
<path d="M93.27,1055.80 H508.32 V787.16 H93.27 Z" fill="none" stroke="#1a7446" stroke-width="6.9" stroke-dasharray="25.7 6.3 12.7 6.3" stroke-linejoin="round"/>
<path d="M754.58,974.04 H1031.28 V822.20 H754.58 Z" fill="none" stroke="#1a7446" stroke-width="6.9" stroke-dasharray="25.7 6.3 12.7 6.3" stroke-linejoin="round"/>
<g font-family="'Liberation Sans', Arial, Helvetica, sans-serif" font-size="38.4" fill="#000" stroke="#000" stroke-width="0.35">
<text x="88.90" y="523.2" text-anchor="middle">0</text>
<text x="88.90" y="1133.2" text-anchor="middle">0</text>
<text x="227.25" y="523.2" text-anchor="middle">5</text>
<text x="227.25" y="1133.2" text-anchor="middle">5</text>
<text x="365.60" y="523.2" text-anchor="middle">10</text>
<text x="365.60" y="1133.2" text-anchor="middle">10</text>
<text x="503.95" y="523.2" text-anchor="middle">15</text>
<text x="503.95" y="1133.2" text-anchor="middle">15</text>
<text x="642.30" y="523.2" text-anchor="middle">20</text>
<text x="642.30" y="1133.2" text-anchor="middle">20</text>
<text x="780.65" y="523.2" text-anchor="middle">25</text>
<text x="780.65" y="1133.2" text-anchor="middle">25</text>
<text x="919.00" y="523.2" text-anchor="middle">30</text>
<text x="919.00" y="1133.2" text-anchor="middle">30</text>
<text x="1057.35" y="523.2" text-anchor="middle">35</text>
<text x="1057.35" y="1133.2" text-anchor="middle">35</text>
<text x="1195.70" y="523.2" text-anchor="middle">40</text>
<text x="1195.70" y="1133.2" text-anchor="middle">40</text>
<text x="1334.05" y="523.2" text-anchor="middle">45</text>
<text x="1334.05" y="1133.2" text-anchor="middle">45</text>
<text x="1472.40" y="523.2" text-anchor="middle">50</text>
<text x="1472.40" y="1133.2" text-anchor="middle">50</text>
<text x="77.3" y="486.40" text-anchor="end">0</text>
<text x="77.3" y="333.25" text-anchor="end">1</text>
<text x="77.3" y="180.10" text-anchor="end">2</text>
<text x="77.3" y="28.25" text-anchor="end">3</text>
<text x="77.3" y="1013.80" text-anchor="end">2</text>
<text x="77.3" y="897.00" text-anchor="end">3</text>
<text x="77.3" y="780.20" text-anchor="end">4</text>
<text x="77.3" y="663.40" text-anchor="end">5</text>
</g>
<g font-family="'Liberation Serif', 'Times New Roman', Times, serif" font-size="42.8" fill="#000">
<text transform="translate(29.3,240.4) rotate(-90)" text-anchor="middle">Process Output</text>
<text transform="translate(29.3,851.2) rotate(-90)" text-anchor="middle" font-size="42.4">Control Signal (%)</text>
<text x="780.7" y="1185.8" text-anchor="middle">Time (s)</text>
</g>
<g font-family="'Liberation Serif', 'Times New Roman', Times, serif" font-size="42.8" font-weight="bold" fill="#000">
<text transform="translate(283.9,317.9) scale(0.946,1.036)">A</text>
<text transform="translate(865.6,301.9) scale(0.922,1.031)">B</text>
<text transform="translate(284.5,756.2) scale(1.02,1.033)">C</text>
<text transform="translate(865.2,802.9) scale(1.0,1.033)">D</text>
</g>
<rect x="1126.6" y="36.6" width="311.9000000000001" height="327.9" fill="#fff" stroke="#262626" stroke-width="2.7"/>
<line x1="1138.8" y1="68.4" x2="1266.8" y2="68.4" stroke="#0000ff" stroke-width="7"/>
<line x1="1138.8" y1="121.25" x2="1266.8" y2="121.25" stroke="#ff0000" stroke-width="5.9" stroke-dasharray="3.9 8.85"/>
<line x1="1138.8" y1="174.2" x2="1266.8" y2="174.2" stroke="#00ff00" stroke-width="6.0" stroke-dasharray="32.4 18.6"/>
<line x1="1138.8" y1="227.1" x2="1266.8" y2="227.1" stroke="#ff00ff" stroke-width="6.0" stroke-dasharray="25.8 9.3 6.6 9.3"/>
<line x1="1138.8" y1="280.05" x2="1266.8" y2="280.05" stroke="#000" stroke-width="6.0"/>
<line x1="1138.8" y1="333.0" x2="1266.8" y2="333.0" stroke="#000" stroke-width="6.0" stroke-dasharray="32.4 18.6"/>
<g font-family="'Liberation Serif', 'Times New Roman', Times, serif" font-size="42.8" fill="#000">
<text x="1276.1" y="83.30">Setpoint</text>
<text x="1276.1" y="136.53">PI</text>
<text x="1276.1" y="189.76">FOPI</text>
<text x="1276.1" y="242.99">PPI</text>
<text x="1276.1" y="296.22">FOPPI</text>
<text x="1276.1" y="349.45">Wireless</text>
</g>
</svg>
</body></html>
